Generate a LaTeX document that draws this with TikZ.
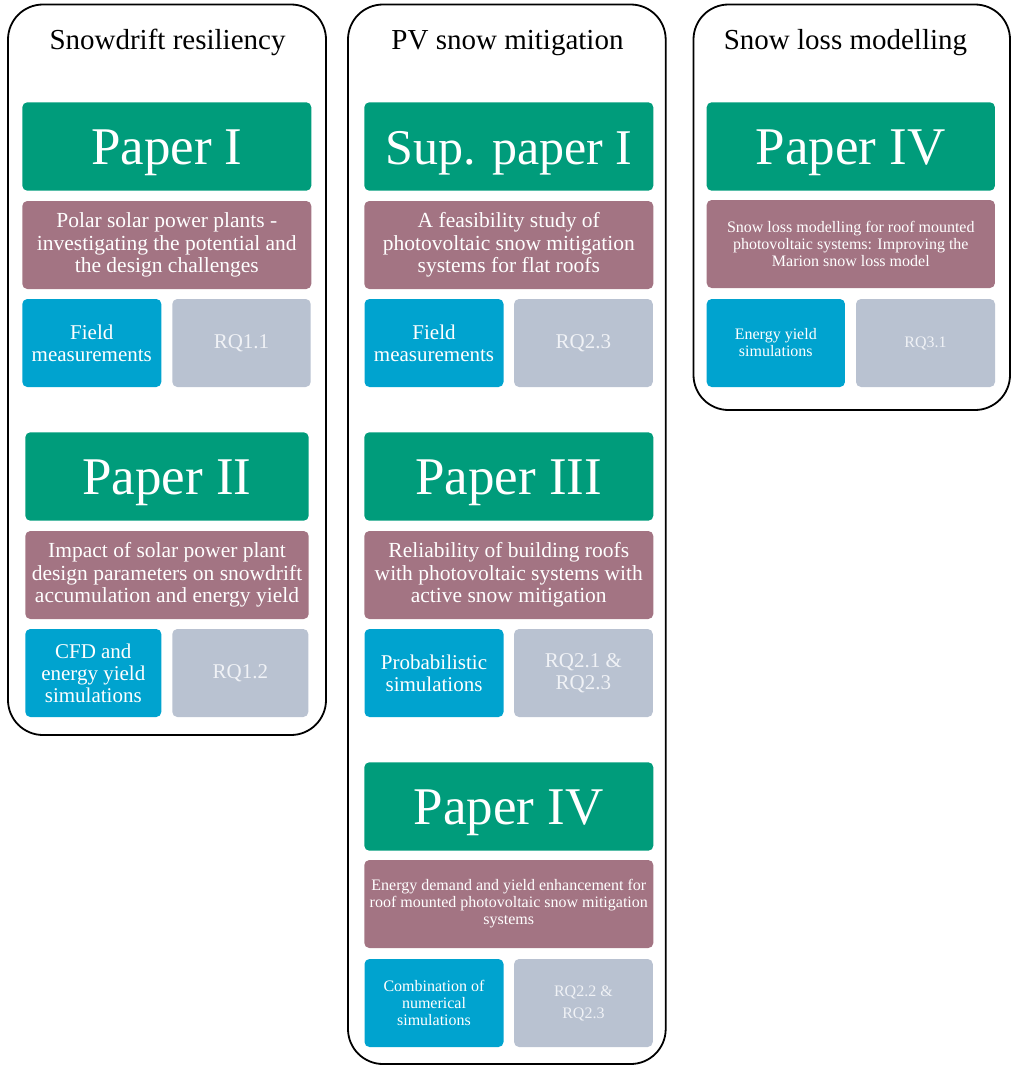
\documentclass[tikz,border=0pt]{standalone}
\usepackage{fontspec}
\setmainfont{Liberation Serif}
\definecolor{pgreen}{RGB}{0,156,123}
\definecolor{pmauve}{RGB}{163,116,131}
\definecolor{pblue}{RGB}{0,163,207}
\definecolor{pgray}{RGB}{185,194,209}
\definecolor{grtext}{RGB}{240,242,246}
\tikzset{
  outerbox/.style={draw=black, line width=1.8pt, rounded corners=35pt, inner sep=0pt},
  titletext/.style={anchor=base, inner sep=0pt, font=\fontsize{29}{32}\selectfont},
  box/.style={rounded corners=5pt, inner sep=0pt, text=white, align=center},
  greenbox/.style={box, fill=pgreen, minimum height=88.4pt, text height=35pt, text depth=0pt, font=\fontsize{53}{60}\selectfont},
  mauvebox/.style={box, fill=pmauve, minimum height=88pt, font=\fontsize{21.5}{22.5}\selectfont},
  bluebox/.style={box, fill=pblue, minimum height=88pt, font=\fontsize{21}{22}\selectfont},
  graybox/.style={box, fill=pgray, text=grtext, minimum height=88pt, font=\fontsize{21}{22}\selectfont},
  small/.style={font=\fontsize{16}{17}\selectfont},
}
\begin{document}
\begin{tikzpicture}[x=1pt,y=-1pt]
\useasboundingbox (0,0) rectangle (1011,1065);
% outer frames
\node[outerbox, minimum width=318pt, minimum height=730.5pt] (c1) at (167,369.75) {};
\node[outerbox, minimum width=317.7pt, minimum height=1059.5pt] (c2) at (506.85,534.25) {};
\node[outerbox, minimum width=316.5pt, minimum height=405.5pt] (c3) at (851.75,207.25) {};
% titles
\node[titletext] (t1) at (167.5,49) {Snowdrift resiliency};
\node[titletext] (t2) at (507.5,49) {PV snow mitigation};
\node[titletext] (t3) at (845.5,49) {Snow loss modelling};
% column 1
\node[greenbox, minimum width=289pt] (g11) at (166.8,146.5) {Paper I};
\node[mauvebox, minimum width=289pt] (m11) at (166.8,245) {Polar solar power plants -\\investigating the potential and\\the design challenges};
\node[bluebox, minimum width=139pt] (b11) at (91.8,343) {Field\\measurements};
\node[graybox, minimum width=138.4pt] (r11) at (241.5,343) {RQ1.1};
\node[greenbox, minimum width=283.4pt] (g12) at (167,476.5) {Paper II};
\node[mauvebox, minimum width=283.4pt] (m12) at (167,575) {Impact of solar power plant\\design parameters on snowdrift\\accumulation and energy yield};
\node[bluebox, minimum width=136pt] (b12) at (93.3,673) {CFD and\\energy yield\\simulations};
\node[graybox, minimum width=136pt] (r12) at (240.3,673) {RQ1.2};
% column 2
\node[greenbox, minimum width=289pt, font=\fontsize{50}{56}\selectfont] (g21) at (508.8,146.5) {Sup. paper I};
\node[mauvebox, minimum width=289pt] (m21) at (508.8,245) {A feasibility study of\\photovoltaic snow mitigation\\systems for flat roofs};
\node[bluebox, minimum width=139pt] (b21) at (434,343) {Field\\measurements};
\node[graybox, minimum width=138.7pt] (r21) at (583.4,343) {RQ2.3};
\node[greenbox, minimum width=289pt] (g22) at (508.8,476.5) {Paper III};
\node[mauvebox, minimum width=289pt] (m22) at (508.8,575) {Reliability of building roofs\\with photovoltaic systems with\\active snow mitigation};
\node[bluebox, minimum width=139pt] (b22) at (434,673) {Probabilistic\\simulations};
\node[graybox, minimum width=138.7pt] (r22) at (583.4,673) {RQ2.1 \&\\RQ2.3};
\node[greenbox, minimum width=289pt] (g23) at (508.8,806.5) {Paper IV};
\node[mauvebox, minimum width=289pt, small] (m23) at (508.8,904) {Energy demand and yield enhancement for\\roof mounted photovoltaic snow mitigation\\systems};
\node[bluebox, minimum width=139pt, small] (b23) at (434,1003) {Combination of\\numerical\\simulations};
\node[graybox, minimum width=138.7pt, font=\fontsize{16}{22}\selectfont] (r23) at (583.4,1003) {RQ2.2 \&\\RQ2.3};
% column 3
\node[greenbox, minimum width=288.3pt] (g31) at (850.8,146.5) {Paper IV};
\node[mauvebox, minimum width=288.3pt, small] (m31) at (850.8,244) {Snow loss modelling for roof mounted\\photovoltaic systems: Improving the\\Marion snow loss model};
\node[bluebox, minimum width=138.3pt, small] (b31) at (775.8,343) {Energy yield\\simulations};
\node[graybox, minimum width=139pt, small] (r31) at (925.5,343) {RQ3.1};
\end{tikzpicture}
\end{document}
